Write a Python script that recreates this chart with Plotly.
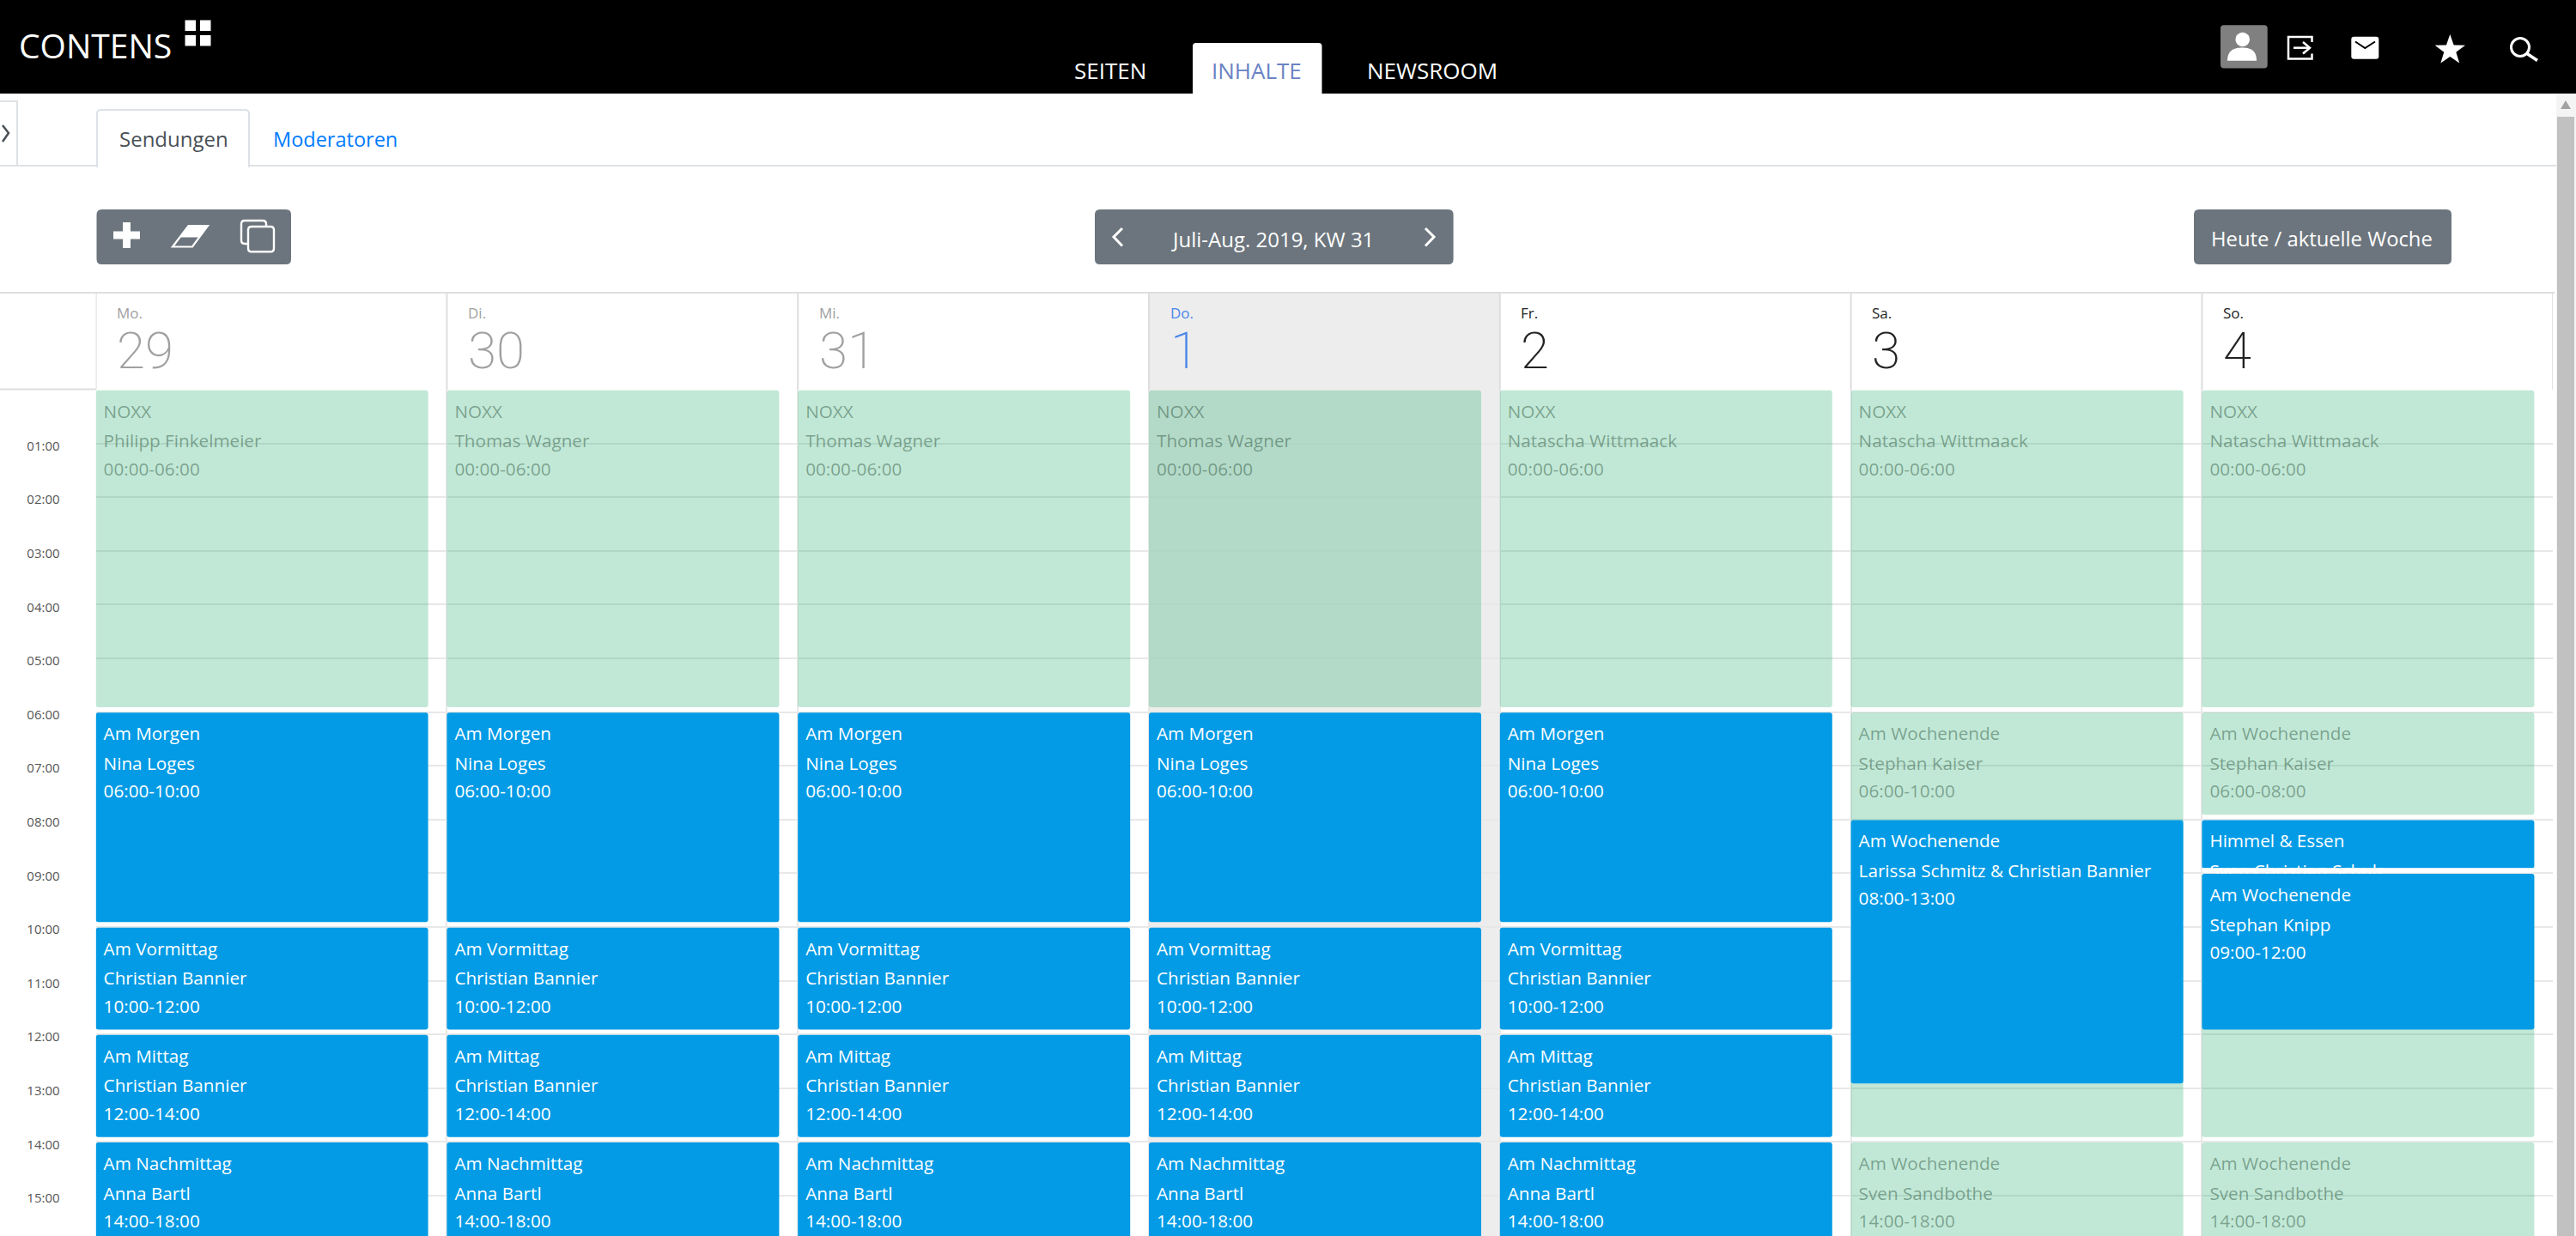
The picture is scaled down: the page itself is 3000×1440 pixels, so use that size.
import math
import plotly.graph_objects as go

# ---------- data ----------
day_names = ["Mo.", "Di.", "Mi.", "Do.", "Fr.", "Sa.", "So."]
day_dates = ["29", "30", "31", "1", "2", "3", "4"]
hour_ticks = list(range(0, 16))
hour_labels = [""] + [f"{h:02d}:00" for h in range(1, 16)]

muted_day = [0, 1, 2, 3, 4, 5, 6, 5, 6, 5, 6, 5, 6]
muted_title = ["NOXX"] * 7 + ["Am Wochenende", "Am Wochenende", "", "", "Am Wochenende", "Am Wochenende"]
muted_host = ["Philipp Finkelmeier", "Thomas Wagner", "Thomas Wagner", "Thomas Wagner",
              "Natascha Wittmaack", "Natascha Wittmaack", "Natascha Wittmaack",
              "Stephan Kaiser", "Stephan Kaiser", "", "", "Sven Sandbothe", "Sven Sandbothe"]
muted_start = [0, 0, 0, 0, 0, 0, 0, 6, 6, 10, 9, 14, 14]
muted_end = [6, 6, 6, 6, 6, 6, 6, 10, 8, 14, 14, 18, 18]

live_day = [0, 1, 2, 3, 4] * 4 + [5, 6]
live_title = ["Am Morgen"] * 5 + ["Am Vormittag"] * 5 + ["Am Mittag"] * 5 + ["Am Nachmittag"] * 5 + ["Am Wochenende", "Himmel & Essen"]
live_host = ["Nina Loges"] * 5 + ["Christian Bannier"] * 10 + ["Anna Bartl"] * 5 + ["Larissa Schmitz & Christian Bannier", "Sven Christian Schulz"]
live_start = [6] * 5 + [10] * 5 + [12] * 5 + [14] * 5 + [8, 8]
live_end = [10] * 5 + [12] * 5 + [14] * 5 + [18] * 5 + [13, 9]

top_day = [6]
top_title = ["Am Wochenende"]
top_host = ["Stephan Knipp"]
top_start = [9]
top_end = [12]

# ---------- style / geometry ----------
W, H = 3000, 1440
COL0, COLW = 111.6, 408.8
TOP, HOUR = 454.0, 62.6
BAR_W = 387 / COLW
GAP = 0.1
GREEN = "rgba(6,164,92,0.25)"
BLUE = "#039BE5"
GREY = "#6c757d"
LINE = "#e8e8e8"
FONT = "Open Sans"
EV = 20.7
ROW = [27.5 / HOUR, 62 / HOUR, 94.5 / HOUR]
PAD = 9 / COLW


def px(x):
    return x / W


def py(y):
    return 1 - y / H


def rr(x0, y0, x1, y1, r=5):
    return (f"M{px(x0 + r)},{py(y0)} L{px(x1 - r)},{py(y0)} Q{px(x1)},{py(y0)} {px(x1)},{py(y0 + r)} "
            f"L{px(x1)},{py(y1 - r)} Q{px(x1)},{py(y1)} {px(x1 - r)},{py(y1)} L{px(x0 + r)},{py(y1)} "
            f"Q{px(x0)},{py(y1)} {px(x0)},{py(y1 - r)} L{px(x0)},{py(y0 + r)} Q{px(x0)},{py(y0)} {px(x0 + r)},{py(y0)} Z")


def poly(pts, close=True):
    s = "M" + " L".join(f"{px(a)},{py(b)}" for a, b in pts)
    return s + (" Z" if close else "")


def circ(cx, cy, r):
    return (f"M{px(cx - r)},{py(cy)} C{px(cx - r)},{py(cy - .55 * r)} {px(cx - .55 * r)},{py(cy - r)} {px(cx)},{py(cy - r)} "
            f"C{px(cx + .55 * r)},{py(cy - r)} {px(cx + r)},{py(cy - .55 * r)} {px(cx + r)},{py(cy)} "
            f"C{px(cx + r)},{py(cy + .55 * r)} {px(cx + .55 * r)},{py(cy + r)} {px(cx)},{py(cy + r)} "
            f"C{px(cx - .55 * r)},{py(cy + r)} {px(cx - r)},{py(cy + .55 * r)} {px(cx - r)},{py(cy)} Z")


shapes = []


def S(path, fill=None, line=None, lw=0):
    shapes.append(dict(type="path", xref="paper", yref="paper", path=path, layer="above",
                       fillcolor=fill or "rgba(0,0,0,0)",
                       line=dict(color=line or "rgba(0,0,0,0)", width=lw)))


annotations = []


def T(x, y, text, size, color, anchor="left", weight=None, family=FONT):
    annotations.append(dict(xref="paper", yref="paper", x=px(x), y=py(y), text=text, showarrow=False,
                            xanchor=anchor, yanchor="middle", borderpad=0,
                            font=dict(family=family, size=size, color=color, weight=weight)))


def event_bars(days, starts, ends, color, xa="x", ya="y"):
    return go.Bar(x=days, y=[e - s - GAP for s, e in zip(starts, ends)], base=[s + 0.01 for s in starts],
                  width=BAR_W, offset=0, marker=dict(color=color, line=dict(width=0)),
                  xaxis=xa, yaxis=ya, hoverinfo="skip", showlegend=False)


def event_text(days, titles, hosts, starts, ends, color, xa="x", ya="y"):
    xs, ys, tx = [], [], []
    for d, t, h, s, e in zip(days, titles, hosts, starts, ends):
        if not t:
            continue
        for k, line in enumerate([t, h, f"{s:02d}:00-{e:02d}:00"]):
            xs.append(d + PAD)
            ys.append(s + ROW[k])
            tx.append(line)
    return go.Scatter(x=xs, y=ys, text=tx, mode="text", textposition="middle right",
                      textfont=dict(family=FONT, size=EV, color=color), xaxis=xa, yaxis=ya,
                      hoverinfo="skip", showlegend=False)


fig = go.Figure()
fig.add_trace(event_bars(muted_day, muted_start, muted_end, GREEN))
fig.add_trace(event_bars(live_day, live_start, live_end, BLUE))
fig.add_trace(event_text(muted_day, muted_title, muted_host, muted_start, muted_end, "rgba(20,60,40,0.42)"))
fig.add_trace(event_text(live_day, live_title, live_host, live_start, live_end, "white"))
# the block that starts at 09:00 covers the overflow of the block above it
fig.add_trace(go.Bar(x=top_day, y=[GAP - 0.01], base=[top_start[0] - GAP], width=BAR_W, offset=0,
                     marker=dict(color="white", line=dict(width=0)), xaxis="x2", yaxis="y2",
                     hoverinfo="skip", showlegend=False))
fig.add_trace(event_bars(top_day, top_start, top_end, BLUE, "x2", "y2"))
fig.add_trace(event_text(top_day, top_title, top_host, top_start, top_end, "white", "x2", "y2"))

# ---------- page furniture ----------
S(poly([(0, 0), (W, 0), (W, 109), (0, 109)]), "#000000")
S(rr(1389, 50, 1539.5, 112, 4), "white")
for a, b in [(215.5, 23.5), (233, 23.5), (215.5, 41), (233, 41)]:
    S(poly([(a, b), (a + 12.5, b), (a + 12.5, b + 12.5), (a, b + 12.5)]), "white")
T(21, 53, "CONTENS", 39, "white")
T(1292.5, 82, "SEITEN", 26, "white", "center")
T(1463.5, 82, "INHALTE", 26, "#6a82c4", "center")
T(1668, 82, "NEWSROOM", 26, "white", "center")

# user icons
S(rr(2586, 29.3, 2640.7, 79.5, 4), "#808080")
S(circ(2611.7, 46, 8.2), "white")
S(f"M{px(2594)},{py(70.7)} C{px(2594)},{py(58)} {px(2603)},{py(55.5)} {px(2611)},{py(55.5)} "
  f"C{px(2620)},{py(55.5)} {px(2628)},{py(58)} {px(2628)},{py(70.7)} Z", "white")
S(poly([(2692.5, 49), (2692.5, 43), (2665, 43), (2665, 68.5), (2692.5, 68.5), (2692.5, 62.5)], False), None, "white", 2.5)
S(poly([(2671, 55.7), (2689, 55.7)], False), None, "white", 2.5)
S(poly([(2682, 49), (2690, 55.7), (2682, 62.5)], False), None, "white", 2.5)
S(rr(2738.3, 42.7, 2770.3, 68.7, 3), "white")
S(poly([(2743, 48.5), (2754.3, 56), (2766, 48.5)], False), None, "black", 2)
star = []
for i in range(10):
    r = 18.6 if i % 2 == 0 else 7.4
    a = -math.pi / 2 + i * math.pi / 5
    star.append((2853.3 + r * math.cos(a), 58.5 + r * math.sin(a)))
S(poly(star), "white")
S(circ(2935, 55, 10.5), None, "white", 3)
S(poly([(2943, 62.5), (2955, 70.5)], False), None, "white", 3.5)

# tab row
S(poly([(0, 193), (2977, 193)], False), None, "#dee2e6", 2)
S(poly([(0, 118), (20, 118), (20, 193)], False), None, "#dee2e6", 2)
S(poly([(3, 146), (10, 155), (3, 165)], False), None, "#495057", 2.5)
S(f"M{px(113)},{py(194)} L{px(113)},{py(132)} Q{px(113)},{py(128)} {px(118)},{py(128)} L{px(285)},{py(128)} "
  f"Q{px(290)},{py(128)} {px(290)},{py(132)} L{px(290)},{py(194)} Z", "white", "#dee2e6", 2)
S(poly([(114, 194), (289, 194)], False), None, "white", 3)
T(138, 161.5, "Sendungen", 24, "#495057")
T(317, 161.5, "Moderatoren", 23.5, "#007bff")

# toolbar buttons
S(rr(112.5, 244, 339, 308, 6), GREY)
S(rr(1275, 244, 1692.6, 308, 6), GREY)
S(rr(2555, 244, 2855, 308, 6), GREY)
S(poly([(143, 259), (152, 259), (152, 269.5), (163, 269.5), (163, 278.5), (152, 278.5), (152, 289),
        (143, 289), (143, 278.5), (132, 278.5), (132, 269.5), (143, 269.5)]), "white")
S(poly([(201, 287.5), (219.5, 263), (242, 263), (224, 287.5)], True), None, "white", 2.2)
S(poly([(209, 276.5), (219.5, 263), (242, 263), (232, 276.5)]), "white")
S(rr(281, 257, 310, 284, 4), None, "white", 2.4)
S(rr(289, 264, 319, 293.3, 4), GREY, "white", 2.4)
S(poly([(1307, 266), (1297, 276), (1307, 286.5)], False), None, "white", 3)
S(poly([(1660, 266), (1670, 276), (1660, 286.5)], False), None, "white", 3)
T(1482, 278, "Juli-Aug. 2019, KW 31", 24, "white", "center")
T(2704, 278, "Heute / aktuelle Woche", 23.8, "white", "center")

# scrollbar
S(poly([(2977, 109), (W, 109), (W, H), (2977, H)]), "#f4f4f4")
S(poly([(2978, 136), (2998, 136), (2998, H), (2978, H)]), "#c1c1c1")
S(poly([(2988, 117), (2994, 127), (2982, 127)]), "#a3a3a3")

# calendar head
S(poly([(0, 341), (2975, 341)], False), None, "#dedede", 2)
S(poly([(0, 453.5), (112, 453.5)], False), None, "#dedede", 2)
shapes.append(dict(type="rect", xref="x", yref="paper", x0=3, x1=4, y0=0, y1=py(342),
                   fillcolor="#ededed", line=dict(width=0), layer="below"))
for i in range(8):
    shapes.append(dict(type="line", xref="x", yref="paper", x0=i, x1=i, y0=py(341), y1=py(454),
                       line=dict(color="#dedede", width=2), layer="below"))
for i, (n, d) in enumerate(zip(day_names, day_dates)):
    c = "#a0a0a0" if i < 3 else ("#4a86e8" if i == 3 else "#222222")
    x = COL0 + i * COLW + 23.5
    T(x, 364.5, n, 17, c)
    T(x, 408, d, 60, c, weight=200, family="Roboto")

fig.update_layout(
    width=W, height=H, autosize=False, margin=dict(l=0, r=0, t=0, b=0, pad=0),
    paper_bgcolor="white", plot_bgcolor="rgba(0,0,0,0)", barmode="overlay", barcornerradius=3,
    showlegend=False, shapes=shapes, annotations=annotations,
    xaxis=dict(domain=[px(COL0), px(COL0 + 7 * COLW)], range=[0, 7], tickvals=list(range(8)), showticklabels=False,
               showgrid=True, gridcolor=LINE, gridwidth=2, zeroline=False, ticks="", fixedrange=True),
    yaxis=dict(domain=[0, py(TOP)], range=[(H - TOP) / HOUR, 0], tickmode="array", tickvals=hour_ticks, ticktext=hour_labels,
               showgrid=True, gridcolor=LINE, gridwidth=2, zeroline=False, ticks="", ticklabelstandoff=41, ticklabelshift=-3,
               tickfont=dict(family=FONT, size=15, color="#555555"), fixedrange=True),
    xaxis2=dict(domain=[px(COL0), px(COL0 + 7 * COLW)], range=[0, 7], overlaying="x", visible=False, showgrid=False,
                zeroline=False, fixedrange=True),
    yaxis2=dict(domain=[0, py(TOP)], range=[(H - TOP) / HOUR, 0], overlaying="y", visible=False, showgrid=False,
                zeroline=False, fixedrange=True),
)

fig.write_html("out.html", config=dict(displayModeBar=False),
               post_script="document.body.style.margin='0';document.body.style.overflow='hidden';")
